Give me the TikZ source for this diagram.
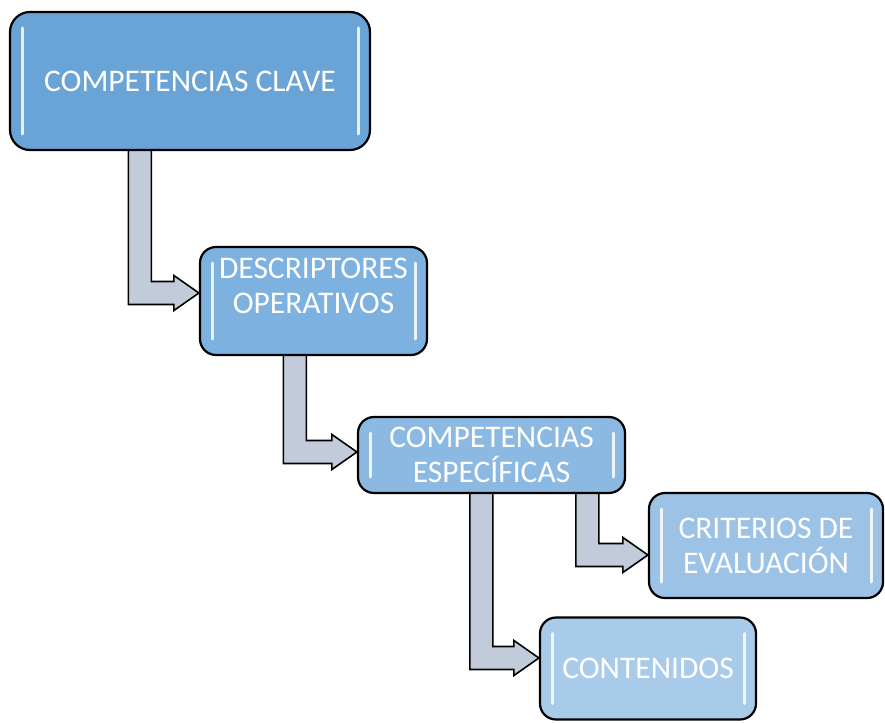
\documentclass[tikz,border=0pt]{standalone}
\usepackage{fontspec}
\setmainfont{Carlito}
\usepackage{xcolor}
\usetikzlibrary{calc,backgrounds}

\definecolor{azulA}{HTML}{6AA3D6}
\definecolor{azulB}{HTML}{7DB1DF}
\definecolor{azulC}{HTML}{8BB9E2}
\definecolor{azulD}{HTML}{9CC3E6}
\definecolor{azulE}{HTML}{A9CBEA}
\definecolor{grisflecha}{HTML}{C2CBD9}

% flecha en codo: #1 origen, #2 x del fuste, #3 destino, #4 desplazamiento de la punta
\newcommand{\flechacodo}[4]{%
  \draw[fatarrow] let \p1=([xshift=#2]#1.south west), \p2=([yshift=#4]#3.west) in
    (\x1-11.5pt,\y1+8pt) -- (\x1-11.5pt,\y2-11.5pt) -- (\x2-25pt,\y2-11.5pt)
    -- (\x2-25pt,\y2-17.5pt) -- (\x2,\y2) -- (\x2-25pt,\y2+17.5pt)
    -- (\x2-25pt,\y2+11.5pt) -- (\x1+11.5pt,\y2+11.5pt) -- (\x1+11.5pt,\y1+8pt) -- cycle;}

\begin{document}
\begin{tikzpicture}[x=1pt, y=1pt,
  caja/.style={draw=black, line width=2.2pt, rounded corners=16pt, inner sep=2pt,
               text=white, align=center, font=\fontsize{31.5}{35}\selectfont,
               path picture={
                 \draw[white, line width=3pt, opacity=0.85, line cap=round]
                   ([xshift=12pt,yshift=-16pt]path picture bounding box.north west)
                   -- ([xshift=12pt,yshift=16pt]path picture bounding box.south west);
                 \draw[white, line width=3pt, opacity=0.85, line cap=round]
                   ([xshift=-12pt,yshift=-16pt]path picture bounding box.north east)
                   -- ([xshift=-12pt,yshift=16pt]path picture bounding box.south east);
               }},
  fatarrow/.style={draw=black, line width=1.6pt, fill=grisflecha, line join=miter},
]
\useasboundingbox (0,0) rectangle (885,-722);

% Cajas
\node[caja, fill=azulA, minimum width=360pt, minimum height=138pt, rounded corners=20pt]
  (clave) at (190,-81) {COMPETENCIAS CLAVE};
\node[caja, fill=azulB, minimum width=227pt, minimum height=108pt, text depth=31pt]
  (descr) at (313.5,-301) {DESCRIPTORES\\OPERATIVOS};
\node[caja, fill=azulC, minimum width=267pt, minimum height=76pt]
  (espec) at (491.5,-455) {COMPETENCIAS\\ESPECÍFICAS};
\node[caja, fill=azulD, minimum width=234pt, minimum height=105pt]
  (crit) at (766,-545.5) {CRITERIOS DE\\EVALUACIÓN};
\node[caja, fill=azulE, minimum width=216pt, minimum height=102pt]
  (cont) at (648,-668.5) {CONTENIDOS};

% Flechas
\begin{pgfonlayer}{background}
\flechacodo{clave}{131pt}{descr}{8pt}
\flechacodo{descr}{96pt}{espec}{3pt}
\flechacodo{espec}{230.5pt}{crit}{-9.5pt}
\flechacodo{espec}{124.5pt}{cont}{10.5pt}
\end{pgfonlayer}

\end{tikzpicture}
\end{document}
